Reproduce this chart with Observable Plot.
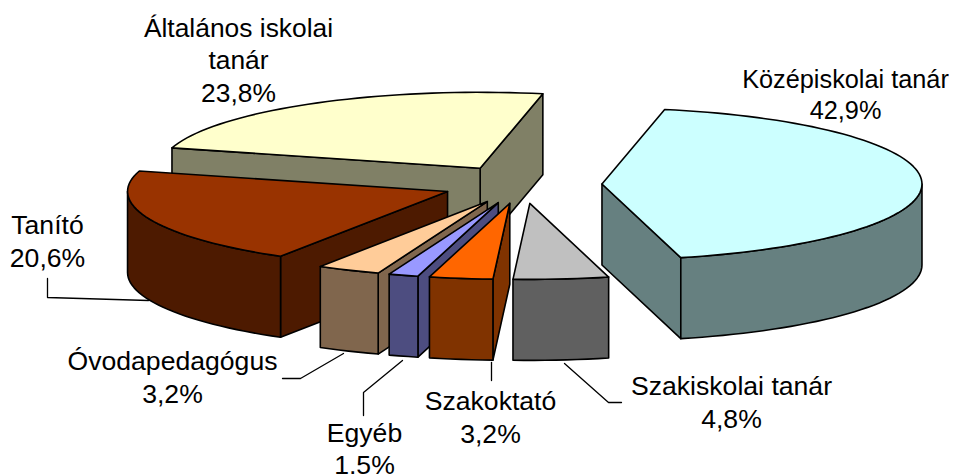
<!DOCTYPE html>
<html>
<head>
<meta charset="utf-8">
<style>html,body{margin:0;padding:0;background:#fff}svg{display:block}</style>
<script src="https://cdn.jsdelivr.net/npm/d3@7"></script>
<script src="https://cdn.jsdelivr.net/npm/@observablehq/plot@0.6"></script>
</head>
<body>
<script>
// Data, clockwise from the first slice
const categories = ["Középiskolai tanár", "Szakiskolai tanár", "Szakoktató", "Egyéb", "Óvodapedagógus", "Tanító", "Általános iskolai\ntanár"];
const values = [42.9, 4.8, 3.2, 1.5, 3.2, 20.6, 23.8];
const colors = ["#CCFFFF", "#C0C0C0", "#FF6600", "#9999FF", "#FFCC99", "#993300", "#FFFFCC"];

// Pie layout
const centre = [521.5, 184], rx = 320, ry = 76, depth = 81, explode = 0.25;
const firstSliceAngle = 11.3;
const drawOrder = [6, 5, 0, 1, 4, 3, 2];

// Label layout
const labelX = [845, 731, 490, 364, 172, 47, 238];
const labelY = [93.5, 400.5, 415.5, 447, 375.5, 239.5, 58.5];
const labelSize = [25.3, 26.6, 26.6, 26.6, 26.6, 26.6, 26.4];
const leaders = [
  [[47, 278], [47, 297], [148, 300]],
  [[282, 378], [300, 378], [343, 353]],
  [[363, 415], [363, 392], [402, 360]],
  [[491, 362], [491, 380]],
  [[564, 363], [608, 402], [621, 402]]
];

const rad = firstSliceAngle * Math.PI / 180;
const arcs = d3.pie().sort(null).startAngle(rad).endAngle(rad + 2 * Math.PI)(values);
const fmt = d3.format(".1f");

const faces = [];
let id = 0;
const half = (c) => { const k = d3.rgb(c); return d3.rgb(k.r / 2, k.g / 2, k.b / 2).formatHex(); };
const addFace = (pts, fill) => { const f = id++; pts.forEach(([x, y]) => faces.push({x, y, f, fill})); };

for (const i of drawOrder) {
  const {startAngle: a0, endAngle: a1} = arcs[i];
  const mid = (a0 + a1) / 2;
  const ax = centre[0] + explode * rx * Math.sin(mid);
  const ay = centre[1] - explode * ry * Math.cos(mid);
  const at = (t) => [ax + rx * Math.sin(t), ay - ry * Math.cos(t)];
  const down = ([x, y]) => [x, y + depth];
  const sweep = (from, to) => {
    const n = Math.max(2, Math.ceil((to - from) / (Math.PI / 90)));
    return d3.range(n + 1).map(k => at(from + (to - from) * k / n));
  };
  const apex = [ax, ay];
  const wall = half(colors[i]);
  // cut faces, only those turned towards the viewer
  if (Math.sin(a1) > 0) addFace([apex, at(a1), down(at(a1)), down(apex)], wall);
  if (Math.sin(a0) < 0) addFace([apex, at(a0), down(at(a0)), down(apex)], wall);
  // outer wall, for the front half of the rim
  const w0 = Math.max(a0, Math.PI / 2), w1 = Math.min(a1, 3 * Math.PI / 2);
  if (w1 > w0) {
    const rim = sweep(w0, w1);
    addFace([...rim, ...rim.slice().reverse().map(down)], wall);
  }
  // top surface
  addFace([apex, ...sweep(a0, a1)], colors[i]);
}

const labels = categories.map((c, i) => ({
  text: `${c}\n${fmt(values[i]).replace(".", ",")}%`, x: labelX[i], y: labelY[i], size: labelSize[i]
}));
const leaderPts = leaders.flatMap((l, g) => l.map(([x, y]) => ({x, y, g})));

const chart = Plot.plot({
  width: 963, height: 474, margin: 0,
  x: {domain: [0, 963], range: [0, 963], axis: null},
  y: {domain: [0, 474], range: [0, 474], axis: null},
  color: {type: "identity"},
  style: {background: "#fff", fontFamily: "'Liberation Sans', Arial, sans-serif"},
  marks: [
    Plot.line(leaderPts, {x: "x", y: "y", z: "g", stroke: "#000", strokeWidth: 1.3}),
    Plot.line(faces, {x: "x", y: "y", z: "f", fill: "fill", stroke: "#000", strokeWidth: 1.6,
      curve: "linear-closed", strokeLinejoin: "round"}),
    Plot.text(labels, {x: "x", y: "y", text: "text", fontSize: "size", lineHeight: 1.22,
      textAnchor: "middle", fill: "#000"})
  ]
});
document.body.appendChild(chart);
</script>
</body>
</html>
